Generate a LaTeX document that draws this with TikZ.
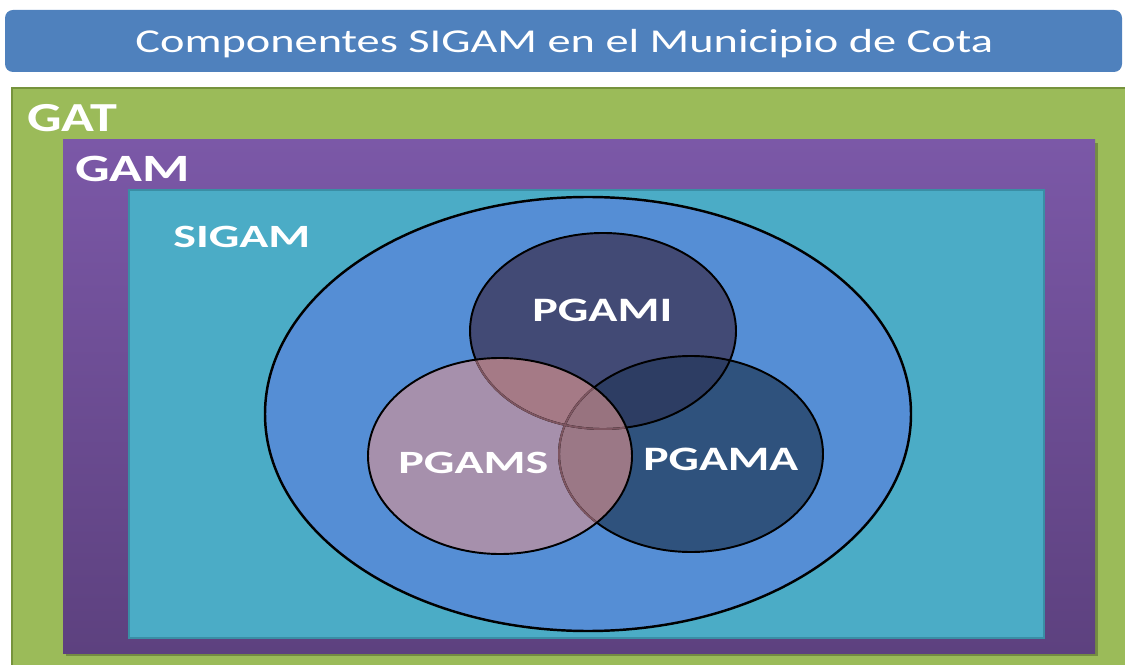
\documentclass[tikz,border=0pt]{standalone}
\usepackage{fontspec}
\setmainfont{Carlito}
\usepackage{graphicx}
\usetikzlibrary{shadows}
\definecolor{titleblue}{HTML}{4F81BD}
\definecolor{gatgreen}{HTML}{9BBB59}
\definecolor{gatline}{HTML}{76933C}
\definecolor{gamtop}{HTML}{7B58A7}
\definecolor{gambottom}{HTML}{5D417F}
\definecolor{sigamteal}{HTML}{4BACC6}
\definecolor{sigamline}{HTML}{3A8EA5}
\definecolor{bigblue}{HTML}{558ED5}
\definecolor{pgamicol}{HTML}{424A75}
\definecolor{pgamacol}{HTML}{2F527D}
\definecolor{pgamscol}{HTML}{A690AC}
\definecolor{ianda}{HTML}{2D3D63}
\definecolor{iands}{HTML}{A57A86}
\definecolor{aands}{HTML}{9B7886}
\definecolor{allthree}{HTML}{98737F}
\definecolor{brownline}{HTML}{7D5560}
\tikzset{
	box label/.style={text=white,font=\bfseries,inner sep=0pt,anchor=base west},
	venn line/.style={draw=black,line width=1.1pt}
}
% stretch a text to a given width, keeping its height
\newcommand{\widetext}[3]{\resizebox{#1}{\height}{\fontsize{#2}{#2}\selectfont #3}}
\def\pgami{(603,331) ellipse [x radius=133, y radius=98]}
\def\pgama{(691,454) ellipse [x radius=132, y radius=98]}
\def\pgams{(500,456) ellipse [x radius=132, y radius=98]}

\begin{document}
\begin{tikzpicture}[x=0.02cm,y=-0.02cm]
	\useasboundingbox (0,0) rectangle (1125,665);
	\clip (0,0) rectangle (1125,665);
	% title bar
	\fill[titleblue,rounded corners=0.16cm] (5,10) rectangle (1122,72);
	\node[inner sep=0pt,anchor=base west,text=white] (title) at (135,53)
		{\widetext{17.16cm}{19pt}{Componentes SIGAM en el Municipio de Cota}};
	% nested boxes
	\filldraw[fill=gatgreen,draw=gatline,line width=1pt] (12,88) rectangle (1135,675);
	\fill[black,opacity=0.25] (66,143) rectangle (1098,656);
	\shade[top color=gamtop,bottom color=gambottom] (63,140) rectangle (1095,653);
	\filldraw[fill=sigamteal,draw=sigamline,line width=1.2pt] (129,190) rectangle (1044,638);
	\node[box label] (gat) at (27,132) {\widetext{1.8cm}{23.5pt}{GAT}};
	\node[box label] (gam) at (75,182) {\widetext{2.3cm}{22pt}{GAM}};
	\node[box label] (sigam) at (173,248) {\widetext{2.74cm}{18.5pt}{SIGAM}};
	% big ellipse
	\filldraw[fill=bigblue,draw=black,line width=1.4pt] (588,414) ellipse [x radius=323, y radius=217];
	% venn circles
	\fill[pgamicol] \pgami;
	\fill[pgamacol] \pgama;
	\fill[pgamscol] \pgams;
	\begin{scope}
		\clip \pgami;
		\fill[ianda] \pgama;
		\fill[iands] \pgams;
	\end{scope}
	\begin{scope}
		\clip \pgama;
		\fill[aands] \pgams;
		\clip \pgami;
		\fill[allthree] \pgams;
	\end{scope}
	\draw[venn line] \pgami;
	\draw[venn line] \pgama;
	\begin{scope}
		\clip \pgams;
		\draw[brownline,line width=1.1pt] \pgami;
		\draw[brownline,line width=1.1pt] \pgama;
	\end{scope}
	\draw[venn line] \pgams;
	\node[box label] (pgami) at (532,322) {\widetext{2.8cm}{19.5pt}{PGAMI}};
	\node[box label] (pgams) at (398,473) {\widetext{3.0cm}{18.5pt}{PGAMS}};
	\node[box label] (pgama) at (643,470) {\widetext{3.1cm}{19.5pt}{PGAMA}};
\end{tikzpicture}
\end{document}
